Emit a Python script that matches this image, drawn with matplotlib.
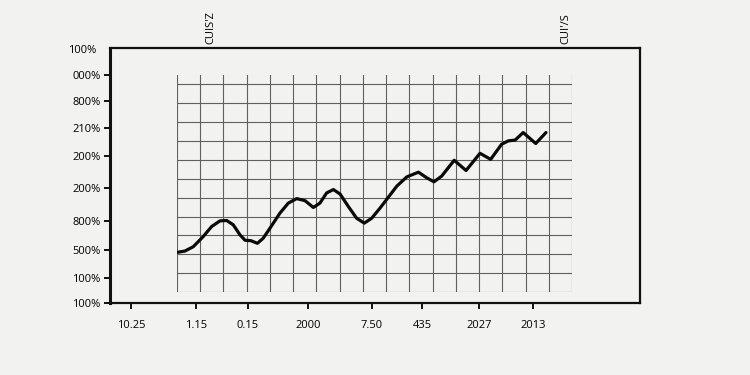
import matplotlib.pyplot as plt

# y axis labels (bottom to top) and their positions on the frame (0..1)
y_pos = [0.0, 0.098, 0.208, 0.32, 0.45, 0.576, 0.686, 0.792, 0.894, 0.99]
y_labels = ['100%', '100%', '500%', '800%', '200%', '200%', '210%', '800%', '000%', '100%']

# x axis labels and positions on the frame (0..1)
x_pos = [0.04, 0.162, 0.26, 0.374, 0.494, 0.589, 0.696, 0.798]
x_labels = ['10.25', '1.15', '0.15', '2000', '7.50', '435', '2027', '2013']

top_labels = ["CUIS'Z", "CUI'/S"]
top_pos = [0.19, 0.86]

# the hand drawn line, in grid cells
line_x = [0.0, 0.34, 0.70, 1.13, 1.49, 1.85, 2.14, 2.42, 2.71, 2.93, 3.18, 3.46,
          3.71, 4.00, 4.43, 4.79, 5.15, 5.51, 5.87, 6.15, 6.44, 6.73, 7.02, 7.37,
          7.73, 8.06, 8.38, 8.74, 9.02, 9.46, 9.89, 10.39, 10.75, 11.06, 11.39,
          11.93, 12.44, 13.04, 13.50, 13.97, 14.26, 14.55, 14.90, 15.44, 15.88]
line_y = [2.10, 2.17, 2.40, 2.94, 3.47, 3.77, 3.79, 3.56, 3.03, 2.74, 2.72, 2.58,
          2.85, 3.38, 4.18, 4.71, 4.95, 4.84, 4.48, 4.71, 5.25, 5.43, 5.19, 4.54,
          3.91, 3.65, 3.91, 4.45, 4.90, 5.61, 6.10, 6.35, 6.05, 5.84, 6.14,
          6.98, 6.44, 7.35, 7.03, 7.83, 8.01, 8.05, 8.45, 7.87, 8.45]

n_cols = 17
n_rows = 11

plt.rcParams['font.family'] = ['Open Sans', 'DejaVu Sans']
paper = '#f2f2f0'

fig = plt.figure(figsize=(7.5, 3.75), dpi=100, facecolor=paper)

# outer frame
ax = fig.add_axes([110 / 750, 1 - 303 / 375, 530 / 750, 255 / 375])
ax.set_facecolor(paper)
ax.set_xlim(0, 1)
ax.set_ylim(0, 1)
for s in ax.spines.values():
    s.set_linewidth(1.6)
    s.set_color('#111111')
ax.spines['left'].set_linewidth(2.2)
ax.set_yticks(y_pos[:-1])
ax.set_yticklabels(y_labels[:-1], fontsize=8)
ax.text(-0.025, y_pos[-1], y_labels[-1], transform=ax.transAxes, fontsize=8,
        ha='right', va='center')
ax.set_xticks(x_pos)
ax.set_xticklabels(x_labels, fontsize=8)
ax.tick_params(axis='both', length=4, width=1.4, color='#111111', pad=3)
ax.tick_params(axis='x', pad=8)
for lab, p in zip(top_labels, top_pos):
    ax.text(p, 1.015, lab, transform=ax.transAxes, rotation=90, fontsize=8,
            ha='center', va='bottom')

# inner grid with the line
gx = fig.add_axes([177 / 750, 1 - 292 / 375, 395 / 750, 217 / 375])
gx.patch.set_alpha(0)
gx.set_xlim(0, n_cols)
gx.set_ylim(0, n_rows + 0.5)
gx.set_xticks(range(n_cols + 1))
gx.set_yticks(range(n_rows + 1))
gx.grid(True, color='#606060', linewidth=0.8)
gx.tick_params(length=0, labelbottom=False, labelleft=False)
for s in gx.spines.values():
    s.set_visible(False)
gx.plot(line_x, line_y, color='#0a0a0a', linewidth=2.3, solid_joinstyle='round',
        solid_capstyle='round')

fig.savefig('out.png', dpi=100, facecolor=paper)
